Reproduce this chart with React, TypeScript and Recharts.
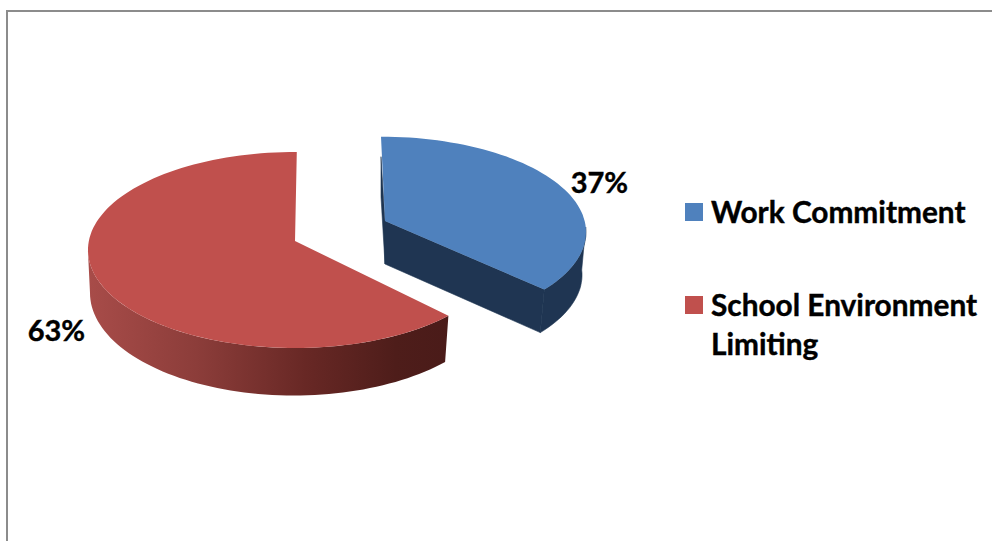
import React from "react";
import { PieChart, Pie, Cell, Legend } from "recharts";

const CATEGORIES = ["Work Commitment", "School Environment Limiting"];
const VALUES = [37, 63];
const TOP_COLORS = ["#4f81bd", "#c0504d"];
const chartData = CATEGORIES.map((name, i) => ({ name, value: VALUES[i] }));

const FONT = "Lato, 'Open Sans', sans-serif";
const PIE_CX = 340;
const PIE_CY = 240;
const PIE_R = 205;

// Slice explosion + pseudo-3D perspective, relative to the pie's own centre and radius
const GEOMETRY = [
  { ox: 41, oy: -8, sx: 1.0, sy: 0.465, tipX: 4, tipY: -11, bx: -4, by: 43, bsx: 1.0, bsy: 0.465, startAdj: 0, endAdj: 6, labelRx: 238, labelRy: 126 },
  { ox: -45, oy: 10, sx: 1.01, sy: 0.478, tipX: 0, tipY: -9, bx: -1, by: 43, bsx: 0.995, bsy: 0.5, startAdj: 1, endAdj: -0.5, labelRx: 260, labelRy: 200 },
];

const SIDE_ID = "redSide";

function ell(cx: number, cy: number, rx: number, ry: number, deg: number) {
  const a = (deg * Math.PI) / 180;
  return [cx + rx * Math.cos(a), cy - ry * Math.sin(a)];
}

function arcPoints(cx: number, cy: number, rx: number, ry: number, from: number, to: number) {
  const n = Math.max(2, Math.ceil(Math.abs(to - from) / 2));
  const pts: number[][] = [];
  for (let i = 0; i <= n; i++) pts.push(ell(cx, cy, rx, ry, from + ((to - from) * i) / n));
  return pts;
}

const toPath = (pts: number[][]) =>
  "M" + pts.map((p) => `${p[0].toFixed(1)},${p[1].toFixed(1)}`).join("L") + "Z";

function SliceShape(props: any) {
  const name = props.payload?.name ?? props.name;
  const idx = CATEGORIES.indexOf(name);
  const g = GEOMETRY[idx];
  const r = props.outerRadius;
  const cx = props.cx + g.ox;
  const cy = props.cy + g.oy;
  const rx = r * g.sx;
  const ry = r * g.sy;
  const bcx = cx + g.bx;
  const bcy = cy + g.by;
  const brx = r * g.bsx;
  const bry = r * g.bsy;
  const start = props.startAngle + g.startAdj;
  const end = props.endAngle + g.endAdj;
  const tip = [cx + g.tipX, cy + g.tipY];
  const top = toPath([tip, ...arcPoints(cx, cy, rx, ry, start, end)]);

  if (idx === 0) {
    // dark side: outer wall on the right + cut wall facing the viewer
    const endTop = ell(cx, cy, rx, ry, end);
    const endBottom = ell(bcx, bcy, brx, bry, end);
    const wall = toPath([
      ...arcPoints(cx, cy, rx, ry, 3, end),
      ...arcPoints(bcx, bcy, brx, bry, end, 3),
    ]);
    const cut = toPath([tip, endTop, endBottom, [tip[0], tip[1] + g.by]]);
    const sliver = toPath([
      [cx, cy - ry + 20],
      tip,
      [tip[0], tip[1] + g.by],
      [cx, cy - ry + 60],
    ]);
    const dark = { fill: "#1f3552", stroke: "#1f3552", strokeWidth: 0.6 };
    return (
      <g>
        <path d={sliver} {...dark} />
        <path d={wall} {...dark} />
        <path d={cut} {...dark} />
        <path d={top} fill={TOP_COLORS[0]} />
      </g>
    );
  }
  const wall = toPath([
    ...arcPoints(cx, cy, rx, ry, start, -180),
    ...arcPoints(bcx, bcy, brx, bry, -180, start),
  ]);
  return (
    <g>
      <defs>
        <linearGradient id={SIDE_ID} gradientUnits="userSpaceOnUse" x1={cx - rx} x2={cx + rx * 0.75} y1="0" y2="0">
          <stop offset="0" stopColor="#a84c49" />
          <stop offset="0.3" stopColor="#8c3d3a" />
          <stop offset="0.6" stopColor="#682825" />
          <stop offset="0.85" stopColor="#4e1d1a" />
          <stop offset="1" stopColor="#4a1b19" />
        </linearGradient>
      </defs>
      <path d={wall} fill={`url(#${SIDE_ID})`} />
      <path d={top} fill={TOP_COLORS[1]} />
    </g>
  );
}

function SliceLabel(props: any) {
  const name = props.payload?.name ?? props.name;
  const idx = CATEGORIES.indexOf(name);
  const g = GEOMETRY[idx];
  const [x, y] = ell(props.cx + g.ox, props.cy + g.oy, g.labelRx, g.labelRy, props.midAngle);
  return (
    <text x={x} y={y} textAnchor="middle" dominantBaseline="central" fontFamily={FONT} fontWeight={700} fontSize={29} fill="#000" stroke="#000" strokeWidth={0.4}>
      {`${VALUES[idx]}%`}
    </text>
  );
}

function LegendBox(props: any) {
  const items = props.payload ?? [];
  return (
    <div style={{ fontFamily: FONT, fontWeight: 700, fontSize: 29.8, lineHeight: "39px", color: "#000", WebkitTextStroke: "0.4px #000" }}>
      {items.map((it: any, i: number) => (
        <div key={it.value} style={{ display: "flex", alignItems: "flex-start", marginBottom: i === 0 ? 54 : 0 }}>
          <span style={{ width: 18, height: 18, background: it.color, marginTop: 11, marginRight: 8, flex: "none" }} />
          <span style={{ width: 275 }}>{it.value}</span>
        </div>
      ))}
    </div>
  );
}

export default function App() {
  return (
    <div style={{ position: "fixed", left: 0, top: 0, width: 992, height: 541, background: "#fff", overflow: "hidden" }}>
      <div style={{ position: "absolute", left: 6, top: 10, width: 1000, height: 540, borderLeft: "2px solid #8c8c8c", borderTop: "2px solid #8c8c8c", boxSizing: "border-box" }} />
      <PieChart width={992} height={541} margin={{ top: 0, right: 0, bottom: 0, left: 0 }} style={{ position: "absolute", left: 0, top: 0 }}>
        <Pie
          data={chartData}
          dataKey="value"
          nameKey="name"
          cx={PIE_CX}
          cy={PIE_CY}
          outerRadius={PIE_R}
          startAngle={90}
          endAngle={-270}
          stroke="none"
          isAnimationActive={false}
          shape={SliceShape}
          label={SliceLabel}
          labelLine={false}
        >
          {CATEGORIES.map((c, i) => (
            <Cell key={c} fill={TOP_COLORS[i]} />
          ))}
        </Pie>
        <Legend
          content={<LegendBox />}
          itemSorter={null}
          wrapperStyle={{ left: 685, top: 192, width: 300, bottom: "auto", right: "auto" }}
        />
      </PieChart>
    </div>
  );
}
